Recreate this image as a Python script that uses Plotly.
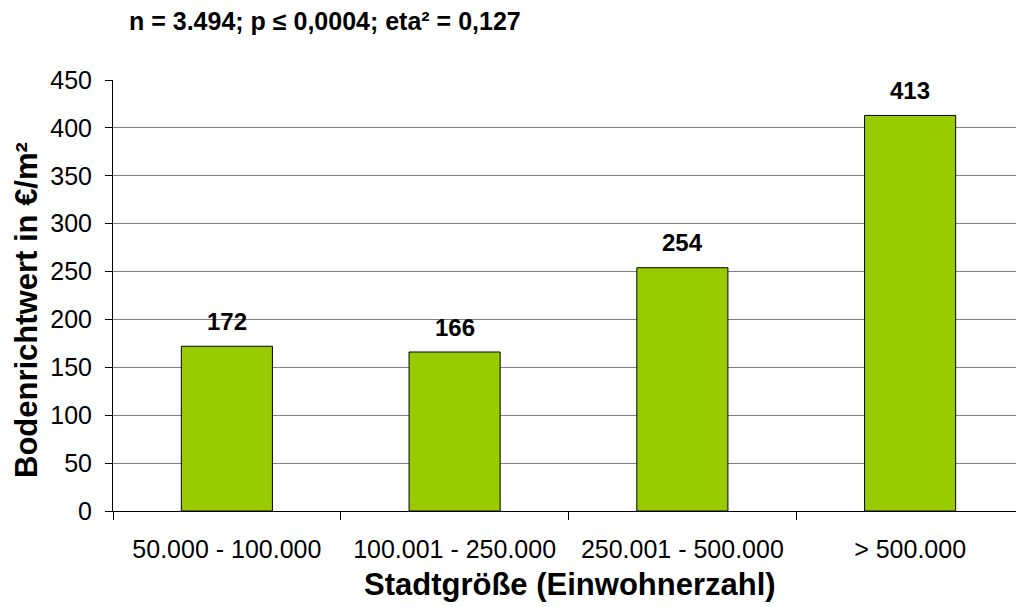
import plotly.graph_objects as go

categories = ["50.000 - 100.000", "100.001 - 250.000", "250.001 - 500.000", "> 500.000"]
values = [172, 166, 254, 413]
title_text = "n = 3.494; p ≤ 0,0004; eta² = 0,127"
x_title = "Stadtgröße (Einwohnerzahl)"
y_title = "Bodenrichtwert in €/m²"

W, H = 1016, 607
L, R, T, B = 113, 0, 80, 96
PW, PH = W - L - R, H - T - B
FONT = "Liberation Sans, Arial"

fig = go.Figure()
fig.add_trace(go.Bar(
    x=categories, y=values, width=0.4,
    marker=dict(color="#99CC00", line=dict(color="#000000", width=1)),
    showlegend=False,
))
for c, v in zip(categories, values):
    fig.add_annotation(x=c, y=v, xref="x", yref="y", text=f"<b>{v}</b>",
                       showarrow=False, yshift=25, yanchor="middle",
                       font=dict(family=FONT, size=24, color="#000"))

fig.add_annotation(xref="paper", yref="paper", x=(127 - L) / PW, y=1 + (T - 21) / PH,
                   xanchor="left", yanchor="middle", showarrow=False,
                   text=f"<b>{title_text}</b>",
                   font=dict(family=FONT, size=25, color="#000"))
fig.add_annotation(xref="paper", yref="paper", x=(570 - L) / PW, y=-(584 - (H - B)) / PH,
                   xanchor="center", yanchor="middle", showarrow=False,
                   text=f"<b>{x_title}</b>",
                   font=dict(family=FONT, size=31, color="#000"))
fig.add_annotation(xref="paper", yref="paper", x=-(L - 26) / PW, y=(H - B - 310) / PH,
                   xanchor="center", yanchor="middle", showarrow=False, textangle=-90,
                   text=f"<b>{y_title}</b>",
                   font=dict(family=FONT, size=31, color="#000"))

fig.update_layout(
    width=W, height=H,
    margin=dict(l=L, r=R, t=T, b=B, pad=0),
    paper_bgcolor="white", plot_bgcolor="white",
    font=dict(family=FONT, size=25, color="#000"),
)
fig.update_xaxes(
    type="category", range=[-0.5, 3.465],
    showline=True, linecolor="#000", linewidth=1,
    ticks="outside", ticklen=8, tickcolor="#000", tickson="boundaries",
    showgrid=False, ticklabelstandoff=16,
    tickfont=dict(family=FONT, size=25, color="#000"),
)
fig.update_yaxes(
    range=[0, 450], dtick=50,
    showline=True, linecolor="#000", linewidth=1,
    ticks="outside", ticklen=7, tickcolor="#000",
    showgrid=True, gridcolor="#808080", gridwidth=1,
    zeroline=False, ticklabelstandoff=8,
    tickfont=dict(family=FONT, size=25, color="#000"),
)

fig.write_html("out.html")
